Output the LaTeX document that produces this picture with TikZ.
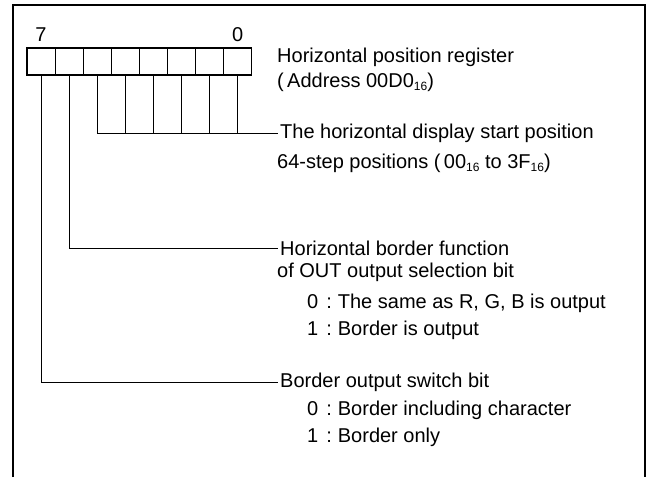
\documentclass[tikz,border=0pt]{standalone}
\usepackage{fontspec}
\setmainfont{Liberation Sans}
\usetikzlibrary{positioning}
\newcommand{\hsub}[1]{\raisebox{-0.3ex}{\fontsize{12}{12}\selectfont #1}}

\begin{document}
\begin{tikzpicture}[x=1pt, y=-1pt,
	cell/.style={draw, line width=1.1pt, minimum width=28.1pt, minimum height=27pt, inner sep=0pt, outer sep=0pt},
	bitno/.style={inner sep=0pt, font=\fontsize{20}{24}\selectfont},
	txt/.style={anchor=west, inner sep=2pt, font=\fontsize{20}{24}\selectfont},
	lead/.style={line width=0.9pt},
	frame/.style={line width=2.2pt}]
		\useasboundingbox (0, 0) rectangle (651, 485);
		\draw[frame] (13, 477) -- (13, 5) -- (645, 5) -- (645, 477);
		% register cells, bit 7 to bit 0
		\node[cell] (c7) at (41.05, 61.5) {};
		\node[cell, right=0pt of c7] (c6) {};
		\node[cell, right=0pt of c6] (c5) {};
		\node[cell, right=0pt of c5] (c4) {};
		\node[cell, right=0pt of c4] (c3) {};
		\node[cell, right=0pt of c3] (c2) {};
		\node[cell, right=0pt of c2] (c1) {};
		\node[cell, right=0pt of c1] (c0) {};
		\node[bitno, above=6pt of c7] (b7) {7};
		\node[bitno, above=6pt of c0] (b0) {0};
		% texts
		\node[txt] (reg) at (275, 57) {Horizontal position register};
		\node[txt] (adr) at (275, 82) {(\,Address 00D0\hsub{16})};
		\node[txt] (hsp) at (278, 133) {The horizontal display start position};
		\node[txt] (hst) at (275, 163) {64-step positions (\,00\hsub{16} to 3F\hsub{16})};
		\node[txt] (hbf) at (278, 248) {Horizontal border function};
		\node[txt] (hbs) at (275, 272) {of OUT output selection bit};
		\node[txt] (hb0) at (305, 303) {0\hspace{8pt}:\hspace{6pt}The same as R, G, B is output};
		\node[txt] (hb1) at (305, 330) {1\hspace{8pt}:\hspace{6pt}Border is output};
		\node[txt] (bsw) at (278, 382) {Border output switch bit};
		\node[txt] (bs0) at (305, 410) {0\hspace{8pt}:\hspace{6pt}Border including character};
		\node[txt] (bs1) at (305, 437) {1\hspace{8pt}:\hspace{6pt}Border only};
		% leaders
		\draw[lead] (c7.south) |- (bsw.west);
		\draw[lead] (c6.south) |- (hbf.west);
		\draw[lead] (c5.south) |- (hsp.west);
		\draw[lead] (c4.south) -- (c4.south |- hsp.west);
		\draw[lead] (c3.south) -- (c3.south |- hsp.west);
		\draw[lead] (c2.south) -- (c2.south |- hsp.west);
		\draw[lead] (c1.south) -- (c1.south |- hsp.west);
		\draw[lead] (c0.south) -- (c0.south |- hsp.west);
\end{tikzpicture}
\end{document}
